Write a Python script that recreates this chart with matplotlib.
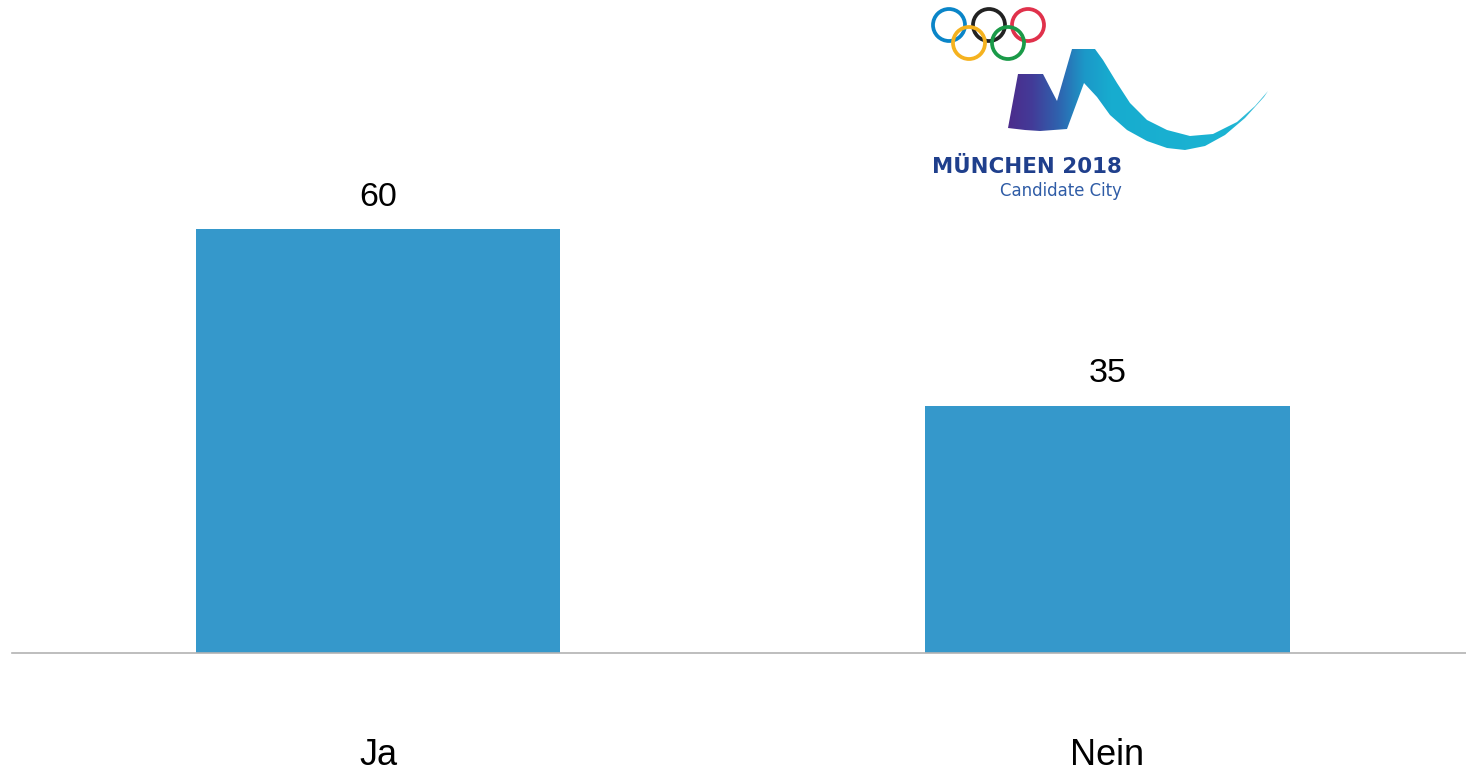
import numpy as np
import matplotlib
matplotlib.use("Agg")
import matplotlib.pyplot as plt
from matplotlib.patches import Circle, Polygon
from matplotlib.colors import LinearSegmentedColormap

# =========================
# Daten
# =========================
categories = ["Ja", "Nein"]
values = [60, 35]

BAR_COLOR = "#3598cb"
W, H = 1466, 771

plt.rcParams["font.family"] = ["Liberation Sans", "DejaVu Sans"]
fig = plt.figure(figsize=(W / 100, H / 100), dpi=100)

# Achse: Grundlinie bei y=653 px, 60 -> y=229 px
ax = fig.add_axes([12 / W, (H - 653) / H, 1 - 12 / W, (653 - 229) / H])
x = np.arange(len(categories))
bars = ax.bar(x, values, width=0.5, color=BAR_COLOR, zorder=2)
ax.set_xlim(-0.502, 1.492)
ax.set_ylim(0, 60)

for b, v in zip(bars, values):
    ax.text(b.get_x() + b.get_width() / 2, v + 2.3, str(v),
            ha="center", va="bottom", fontsize=24.5, clip_on=False)

ax.set_xticks(x)
ax.set_xticklabels(categories, fontsize=26)
ax.tick_params(axis="x", length=0, pad=61.5)
ax.set_yticks([])
for s in ["top", "right", "left"]:
    ax.spines[s].set_visible(False)
ax.spines["bottom"].set_color("#b3b3b3")
ax.spines["bottom"].set_linewidth(1.2)

# =========================
# Logo (Pixelkoordinaten)
# =========================
lax = fig.add_axes([0, 0, 1, 1], zorder=5)
lax.set_xlim(0, W)
lax.set_ylim(H, 0)
lax.axis("off")

rings = [
    ((949, 25), "#0a85c8"),
    ((989, 25), "#222222"),
    ((1028, 25), "#e0314b"),
    ((969, 43), "#f5b21f"),
    ((1008, 43), "#1a9a48"),
]
for (cx, cy), col in rings:
    lax.add_patch(Circle((cx, cy), 16, fill=False, ec=col, lw=2.7))

# Welle (M-Form) als Umriss
wave_outline = [
    (1008, 128), (1018, 74), (1043, 74), (1057, 101), (1072, 49), (1095, 49),
    (1103, 60), (1117, 83), (1130, 103), (1147, 120), (1167, 130),
    (1190, 136), (1213, 134), (1237, 122), (1255, 106), (1268, 91),
    (1264, 97), (1245, 118), (1225, 135), (1205, 146), (1185, 150),
    (1167, 148), (1147, 141), (1127, 130), (1110, 115), (1097, 97),
    (1084, 83), (1067, 129), (1040, 131), (1025, 130),
]
poly = Polygon(wave_outline, closed=True, fc="none", ec="none")
lax.add_patch(poly)
cmap = LinearSegmentedColormap.from_list(
    "wave", [(0.0, "#4d2a8a"), (0.1, "#433b98"), (0.2, "#2f62ae"),
             (0.3, "#1c98c8"), (0.4, "#17accf"), (0.85, "#1cb4d3"),
             (1.0, "#4cc5de")])
grad = np.linspace(0, 1, 256).reshape(1, -1)
im = lax.imshow(grad, cmap=cmap, extent=[1005, 1270, 152, 46],
                aspect="auto", interpolation="bilinear")
im.set_clip_path(poly)
lax.set_xlim(0, W)
lax.set_ylim(H, 0)

lax.text(1122, 173, "MÜNCHEN 2018", ha="right", va="baseline",
         fontsize=15.4, fontweight="bold", color="#1f3f8c",
         family="DejaVu Sans")
lax.text(1122, 196, "Candidate City", ha="right", va="baseline",
         fontsize=11.9, color="#2f5ca6", family="DejaVu Sans")

fig.savefig("out.png", dpi=100)
